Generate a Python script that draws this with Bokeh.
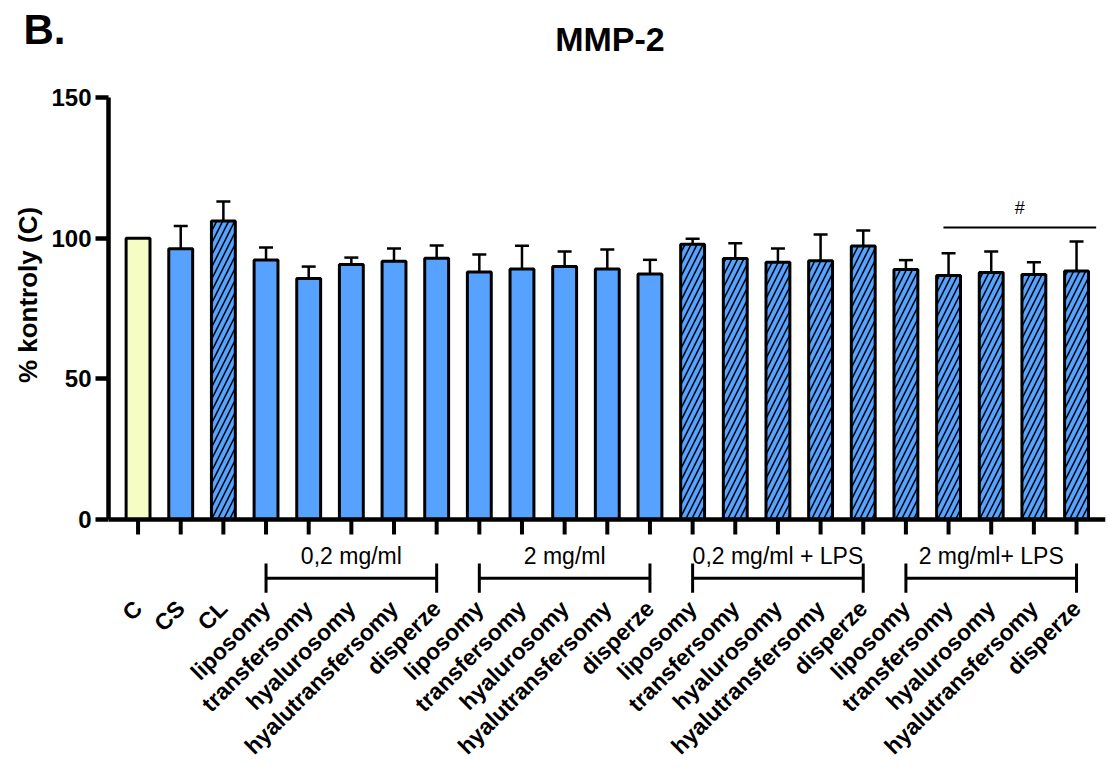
import numpy as np
from bokeh.plotting import figure
from bokeh.layouts import column, row
from bokeh.models import (ColumnDataSource, Range1d, FixedTicker, Whisker, TeeHead, Span)
from bokeh.core.properties import value
from bokeh.embed import file_html
from bokeh.resources import INLINE

# ---------------- data ----------------
categories = ["C", "CS", "CL",
              "liposomy", "transfersomy", "hyalurosomy", "hyalutransfersomy", "disperze",
              "liposomy", "transfersomy", "hyalurosomy", "hyalutransfersomy", "disperze",
              "liposomy", "transfersomy", "hyalurosomy", "hyalutransfersomy", "disperze",
              "liposomy", "transfersomy", "hyalurosomy", "hyalutransfersomy", "disperze"]
means = [100.0, 96.2, 106.1,
         92.2, 85.7, 90.6, 91.8, 92.9,
         88.0, 89.0, 89.9, 89.0, 87.3,
         97.8, 92.8, 91.4, 92.0, 97.2,
         88.9, 86.7, 87.8, 87.1, 88.3]
errors = [0.0, 8.1, 6.9,
          4.5, 4.2, 2.5, 4.5, 4.5,
          6.2, 8.3, 5.4, 7.0, 5.0,
          2.0, 5.4, 4.9, 9.3, 5.5,
          3.3, 7.9, 7.5, 4.3, 10.5]
group_names = ["0,2 mg/ml", "2 mg/ml", "0,2 mg/ml + LPS", "2 mg/ml+ LPS"]
group_first = [3, 8, 13, 18]
group_last = [7, 12, 17, 22]
y_ticks = [0, 50, 100, 150]
sig_first, sig_last = 19, 22
sig_level = 103.8
sig_text = "#"
title_text = "MMP-2"
panel_text = "B."
y_label = "% kontroly (C)"

FONT = "Liberation Sans"
BLUE = "#58A2FF"
YELLOW = "#F5FDC4"

n = len(categories)
x = list(range(n))
hatched_idx = [2] + list(range(13, 23))
fills = [YELLOW if i == 0 else BLUE for i in x]
hatches = ["/" if i in hatched_idx else " " for i in x]
src = ColumnDataSource(dict(x=x, top=means, fill=fills, hatch=hatches))


def bare(fig):
    fig.outline_line_color = None
    fig.xgrid.visible = False
    fig.ygrid.visible = False
    fig.axis.visible = False
    fig.background_fill_color = "white"
    fig.border_fill_color = "white"
    fig.min_border_left = fig.min_border_right = 0
    fig.min_border_top = fig.min_border_bottom = 0


# ---------------- header (panel letter + title) ----------------
HW, HH = 1109, 82
head = figure(width=HW, height=HH, output_backend="svg", toolbar_location=None,
              x_range=Range1d(0, HW), y_range=Range1d(HH, 0))
bare(head)
head.text(x=[23], y=[29], text=[panel_text], text_align="left", text_baseline="middle",
          text_font=value(FONT), text_font_style="bold", text_font_size="42px",
          text_color="black")
head.text(x=[609.5], y=[38], text=[title_text], text_align="center",
          text_baseline="middle", text_font=value(FONT), text_font_style="bold",
          text_font_size="34px", text_color="black")

# ---------------- main figure ----------------
MW, MH = 1061, 690
p = figure(width=MW, height=MH, output_backend="svg", toolbar_location=None,
           x_range=Range1d(-0.693, 22.679), y_range=Range1d(-28.08, 150),
           min_border_left=59, min_border_right=4, min_border_top=15,
           min_border_bottom=174)
p.outline_line_color = None
p.xgrid.visible = False
p.ygrid.visible = False
p.background_fill_color = "white"
p.border_fill_color = "white"

p.vbar(x="x", top="top", bottom=0, width=0.56, source=src,
       fill_color="fill", line_color="black", line_width=3,
       hatch_pattern="hatch", hatch_color="black", hatch_weight=1.5, hatch_scale=12)

# error bars
ex = [i for i in x if errors[i] > 0]
esrc = ColumnDataSource(dict(base=ex, lower=[means[i] for i in ex],
                             upper=[means[i] + errors[i] for i in ex]))
p.add_layout(Whisker(base="base", lower="lower", upper="upper", source=esrc,
                     line_width=2.5, line_color="black",
                     upper_head=TeeHead(size=14, line_width=2.5, line_color="black"),
                     lower_head=None))

# baseline + ticks at bar positions
p.add_layout(Span(location=0, dimension="width", line_color="black", line_width=4.5))
tick_len = 15 / 2.8133
p.segment(x0=x, y0=[0] * n, x1=x, y1=[-tick_len] * n, line_color="black", line_width=4)

# group brackets
yb = -20.87
cap = 5.2
p.segment(x0=group_first, y0=[yb] * 4, x1=group_last, y1=[yb] * 4,
          line_color="black", line_width=3)
p.segment(x0=group_first, y0=[yb - cap] * 4, x1=group_first, y1=[yb + cap] * 4,
          line_color="black", line_width=3)
p.segment(x0=group_last, y0=[yb - cap] * 4, x1=group_last, y1=[yb + cap] * 4,
          line_color="black", line_width=3)
gx = [(a + b) / 2 for a, b in zip(group_first, group_last)]
p.text(x=gx, y=[-12.8] * 4, text=group_names, text_align="center",
       text_baseline="middle", text_font=value(FONT), text_font_size="23px",
       text_color="black")

# significance line
sx0, sx1 = sig_first - 0.12, sig_last + 0.46
p.segment(x0=[sx0], y0=[sig_level], x1=[sx1], y1=[sig_level],
          line_color="black", line_width=2)
p.text(x=[(sx0 + sx1) / 2], y=[sig_level + 7.1], text=[sig_text],
       text_align="center", text_baseline="middle", text_font=value(FONT),
       text_font_size="18px", text_color="black")

# y axis
ya = p.yaxis[0]
ya.ticker = FixedTicker(ticks=y_ticks)
ya.bounds = (0, 150)
ya.axis_line_width = 4.5
ya.major_tick_line_width = 4.5
ya.major_tick_out = 13
ya.major_tick_in = 0
ya.minor_tick_line_color = None
ya.major_label_text_font = FONT
ya.major_label_text_font_style = "bold"
ya.major_label_text_font_size = "24px"
ya.major_label_text_color = "black"
ya.major_label_standoff = 4

# x axis (category labels only)
xa = p.xaxis[0]
xa.ticker = FixedTicker(ticks=x)
xa.major_label_overrides = {i: c for i, c in zip(x, categories)}
xa.axis_line_color = None
xa.major_tick_line_color = None
xa.minor_tick_line_color = None
xa.major_label_orientation = np.pi / 4
xa.major_label_text_font = FONT
xa.major_label_text_font_style = "bold"
xa.major_label_text_font_size = "23px"
xa.major_label_text_color = "black"
xa.major_label_standoff = 0

# ---------------- y label strip ----------------
LW = 48
ylab = figure(width=LW, height=MH, output_backend="svg", toolbar_location=None,
              x_range=Range1d(0, LW), y_range=Range1d(MH, 0))
bare(ylab)
ylab.text(x=[27], y=[272], text=[y_label], angle=np.pi / 2, text_align="center",
          text_baseline="middle", text_font=value(FONT), text_font_style="bold",
          text_font_size="26px", text_color="black")

layout = column(head, row(ylab, p, spacing=0), spacing=0)
open("out.html", "w").write(file_html(layout, INLINE))
